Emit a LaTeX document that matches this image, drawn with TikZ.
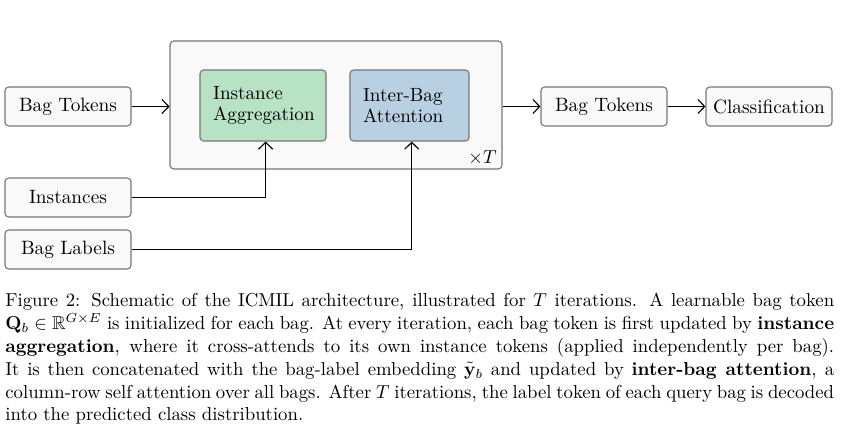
\documentclass[tikz,border=0pt]{standalone}
\usepackage{amssymb}
\usetikzlibrary{arrows.meta}
\definecolor{boxfill}{HTML}{F9F9F9}
\definecolor{boxdraw}{HTML}{777777}
\definecolor{aggfill}{HTML}{B8E2C4}
\definecolor{attfill}{HTML}{B8D0E2}
\tikzset{
  plainbox/.style={draw=boxdraw, fill=boxfill, line width=0.6pt, rounded corners=2pt,
    minimum width=67.2pt, minimum height=20.8pt, inner sep=0pt, align=center,
    font=\fontsize{10.3pt}{12.4pt}\selectfont},
  innerbox/.style={draw=boxdraw, line width=0.6pt, rounded corners=2pt,
    minimum height=37.9pt, inner xsep=7pt, inner ysep=0pt, align=left,
    font=\fontsize{10.2pt}{11.2pt}\selectfont},
  conn/.style={line width=0.6pt, -{Straight Barb[length=3.6pt,width=7.5pt]}},
}
\begin{document}
\begin{tikzpicture}[x=0.5333pt, y=-0.5333pt]
\useasboundingbox (0,0) rectangle (859,443);
% outer loop box
\node[draw=boxdraw, fill=boxfill, line width=0.6pt, rounded corners=2pt,
  minimum width=177pt, minimum height=68.3pt, inner sep=0pt] (loop) at (336,105) {};
\node[anchor=south east, inner sep=0pt, font=\fontsize{10.3pt}{12pt}\selectfont] (times) at (497,165) {$\times T$};
% inner boxes
\node[innerbox, fill=aggfill, text width=53.2pt] (agg) at (263,105.5) {Instance\\Aggregation};
\node[innerbox, fill=attfill, text width=49.5pt] (att) at (409.5,105.5) {Inter-Bag\\Attention};
% input boxes
\node[plainbox] (tok) at (68,106.5) {Bag Tokens};
\node[plainbox] (inst) at (68,197.5) {Instances};
\node[plainbox] (lab) at (68,249.5) {Bag Labels};
% output boxes
\node[plainbox] (tok2) at (604,106.5) {Bag Tokens};
\node[plainbox] (cls) at (769,106.5) {Classification};
% connectors
\draw[conn] (tok.east) -- (tok.east -| loop.west);
\draw[conn] (inst.east) -| ([xshift=1.4pt]agg.south);
\draw[conn] (lab.east) -| ([xshift=1.2pt]att.south);
\draw[conn] (tok2.west -| loop.east) -- (tok2.west);
\draw[conn] (tok2.east) -- (cls.west);
% caption
\node[anchor=north west, inner sep=0pt, text width=442pt, align=justify,
  font=\fontsize{10pt}{12.16pt}\selectfont] (cap) at (5,293)
{\hbadness=10000 \hyphenpenalty=10000 Figure 2: Schematic of the ICMIL architecture, illustrated for $T$ iterations. A learnable bag token\linebreak
$\mathbf{Q}_b\in\mathbb{R}^{G\times E}$ is initialized for each bag. At every iteration, each bag token is first updated by \textbf{instance}\linebreak
\textbf{aggregation}, where it cross-attends to its own instance tokens (applied independently per bag).\linebreak
It is then concatenated with the bag-label embedding $\tilde{\mathbf{y}}_b$ and updated by \textbf{inter-bag attention}, a\linebreak
column-row self attention over all bags. After $T$ iterations, the label token of each query bag is decoded\linebreak
into the predicted class distribution.};
\end{tikzpicture}
\end{document}
